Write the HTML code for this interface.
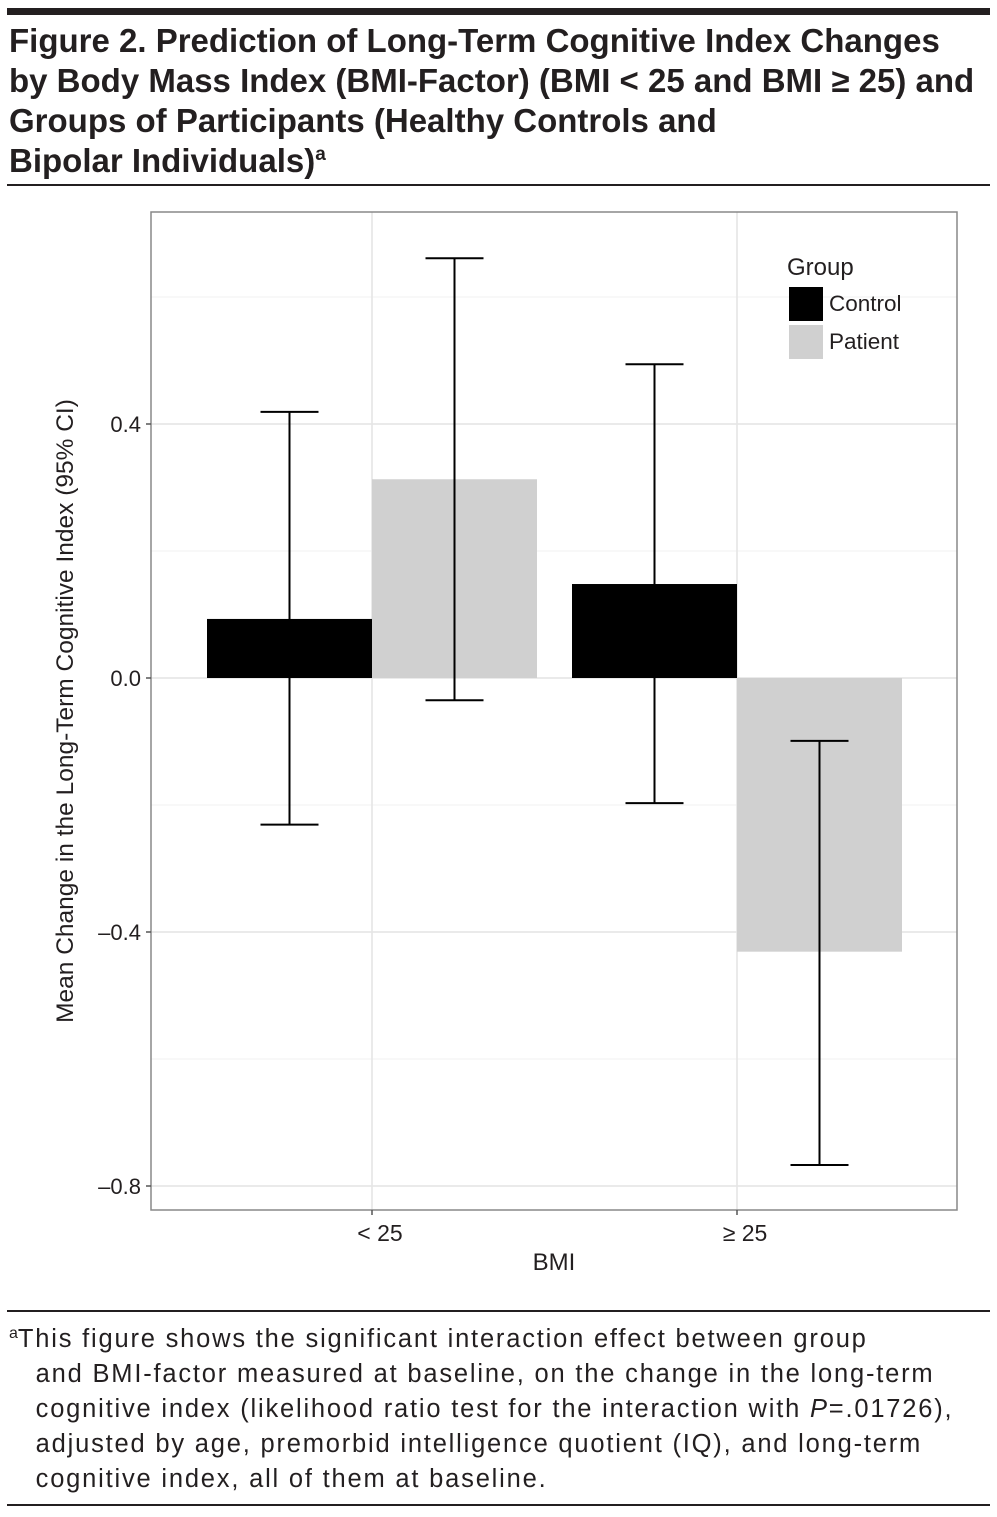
<!DOCTYPE html>
<html><head><meta charset="utf-8"><style>
body{margin:0;background:#fff;width:997px;height:1517px;position:relative;font-family:"Liberation Sans",sans-serif;overflow:hidden}
.title{position:absolute;left:9px;top:21px;width:990px;font-size:33px;font-weight:bold;line-height:40px;color:#231f20;letter-spacing:0px;white-space:nowrap}
.foot{position:absolute;left:9px;top:1322px;width:990px;font-size:25.5px;line-height:35px;color:#231f20;letter-spacing:1.8px;white-space:nowrap}
.sup{position:relative;top:-12px;line-height:0}
</style></head><body>
<div style="position:absolute;left:7px;top:8px;width:983px;height:7px;background:#231f20"></div>
<div class="title">Figure 2. Prediction of Long-Term Cognitive Index Changes<br>by Body Mass Index (BMI-Factor) (BMI &lt; 25 and BMI ≥ 25) and<br>Groups of Participants (Healthy Controls and<br>Bipolar Individuals)<span class="sup" style="font-size:19px">a</span></div>
<div style="position:absolute;left:7px;top:184px;width:983px;height:2px;background:#231f20"></div>
<svg width="997" height="1517" style="position:absolute;left:0;top:0">
<g id="g"></g>
</svg>
<div style="position:absolute;left:7px;top:1310px;width:983px;height:2px;background:#231f20"></div>
<div class="foot"><span class="sup" style="font-size:16px;top:-9px;letter-spacing:0">a</span>This figure shows the significant interaction effect between group<br>&nbsp;&nbsp;&nbsp;and BMI-factor measured at baseline, on the change in the long-term<br>&nbsp;&nbsp;&nbsp;cognitive index (likelihood ratio test for the interaction with <i>P</i>=.01726),<br>&nbsp;&nbsp;&nbsp;adjusted by age, premorbid intelligence quotient (IQ), and long-term<br>&nbsp;&nbsp;&nbsp;cognitive index, all of them at baseline.</div>
<div style="position:absolute;left:7px;top:1504px;width:983px;height:2px;background:#231f20"></div>
<script>
const categories=["< 25","≥ 25"];
const groups=["Control","Patient"];
const controlMean=[0.093,0.148];
const controlLo=[-0.231,-0.197];
const controlHi=[0.419,0.494];
const patientMean=[0.313,-0.431];
const patientLo=[-0.035,-0.767];
const patientHi=[0.661,-0.099];
const majorTicks=[0.4,0.0,-0.4,-0.8];
const tickLabels=["0.4","0.0","\u20130.4","\u20130.8"];
const minorTicks=[0.6,0.2,-0.2,-0.6];
const colors=["#000000","#d0d0d0"];
const L=151,R=957,T=212,B=1210;
const y=v=>678-v*635;
const xc=i=>372+i*365;
const BW=165;
const g=document.getElementById('g');
const NS='http://www.w3.org/2000/svg';
function add(tag,at,name,txt){const e=document.createElementNS(NS,tag);for(const k in at)e.setAttribute(k,at[k]);


if(txt!==undefined)e.textContent=txt;g.appendChild(e);return e;}
minorTicks.forEach(v=>add('line',{x1:L,x2:R,y1:y(v),y2:y(v),stroke:'#f0f0f0','stroke-width':1},'minor-gridline'));
majorTicks.forEach(v=>add('line',{x1:L,x2:R,y1:y(v),y2:y(v),stroke:'#e4e4e4','stroke-width':1.5},'major-gridline'));
categories.forEach((c,i)=>add('line',{x1:xc(i),x2:xc(i),y1:T,y2:B,stroke:'#e4e4e4','stroke-width':1.5},'x-gridline'));
const means=[controlMean,patientMean],los=[controlLo,patientLo],his=[controlHi,patientHi];
categories.forEach((c,i)=>{
 [0,1].forEach(s=>{
  const x0=xc(i)+(s===0?-BW:0),v=means[s][i];
  add('rect',{x:x0,y:Math.min(y(v),y(0)),width:BW,height:Math.abs(y(v)-y(0)),fill:colors[s]},'bar-'+groups[s].toLowerCase()+'-'+i);
 });
});
categories.forEach((c,i)=>{
 [0,1].forEach(s=>{
  const cx=xc(i)+(s===0?-BW/2:BW/2);
  add('line',{x1:cx,x2:cx,y1:y(his[s][i]),y2:y(los[s][i]),stroke:'#000','stroke-width':2},'error-bar');
  add('line',{x1:cx-29,x2:cx+29,y1:y(his[s][i]),y2:y(his[s][i]),stroke:'#000','stroke-width':2},'error-cap-top');
  add('line',{x1:cx-29,x2:cx+29,y1:y(los[s][i]),y2:y(los[s][i]),stroke:'#000','stroke-width':2},'error-cap-bottom');
 });
});
add('rect',{x:L,y:T,width:R-L,height:B-T,fill:'none',stroke:'#888','stroke-width':1.5},'plot-border');
majorTicks.forEach((v,i)=>{
 add('line',{x1:L-5,x2:L,y1:y(v),y2:y(v),stroke:'#555','stroke-width':1.5},'y-tick');
 add('text',{x:L-10,y:y(v)+8,'text-anchor':'end','font-size':22,fill:'#231f20','font-family':'Liberation Sans'},'y-tick-label',tickLabels[i]);
});
categories.forEach((c,i)=>{
 add('line',{x1:xc(i),x2:xc(i),y1:B,y2:B+5,stroke:'#555','stroke-width':1.5},'x-tick');
 add('text',{x:xc(i)+8,y:B+31,'text-anchor':'middle','font-size':23,fill:'#231f20','font-family':'Liberation Sans'},'x-tick-label',c);
});
add('text',{x:554,y:1270,'text-anchor':'middle','font-size':24,fill:'#231f20','font-family':'Liberation Sans'},'x-axis-title','BMI');
add('text',{x:0,y:0,transform:'translate(73,711) rotate(-90)','text-anchor':'middle','font-size':24.5,fill:'#231f20','font-family':'Liberation Sans'},'y-axis-title','Mean Change in the Long-Term Cognitive Index (95% CI)');
add('text',{x:787,y:275,'font-size':24,fill:'#231f20','font-family':'Liberation Sans'},'legend-title','Group');
groups.forEach((gname,s)=>{
 add('rect',{x:789,y:287+s*38,width:34,height:34,fill:colors[s]},'legend-swatch-'+gname.toLowerCase());
 add('text',{x:829,y:311+s*38,'font-size':22.5,fill:'#231f20','font-family':'Liberation Sans'},'legend-label-'+gname.toLowerCase(),gname);
});
</script>
</body></html>
